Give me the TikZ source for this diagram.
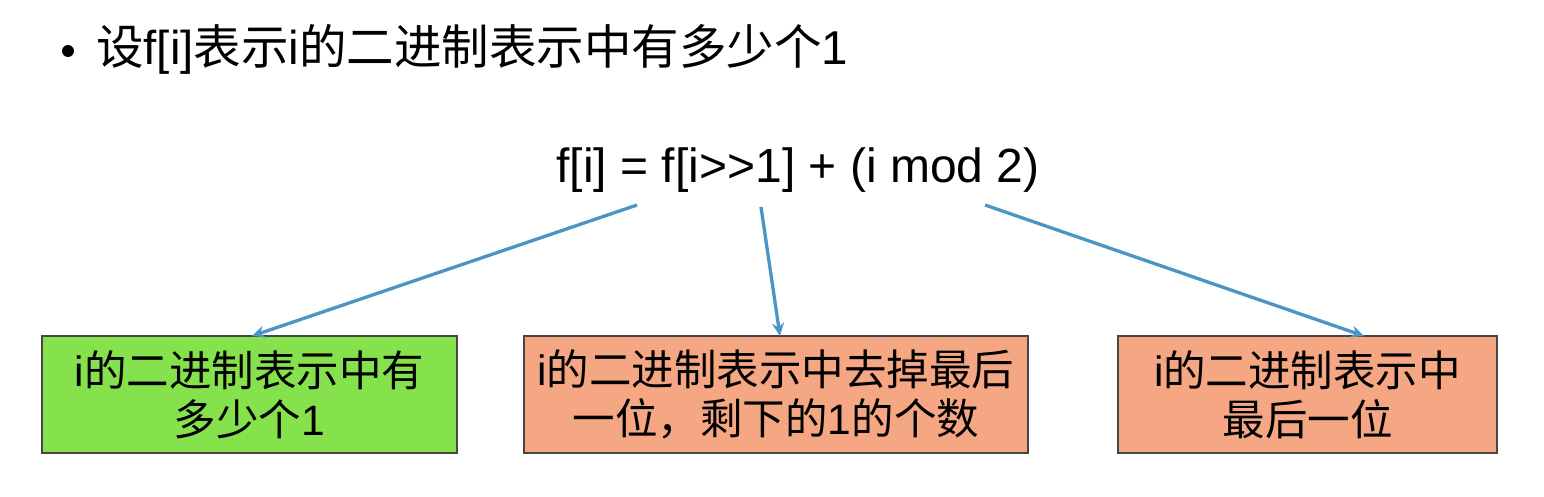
\documentclass[tikz,border=0pt]{standalone}
\usepackage{fontspec}
\setmainfont{Liberation Sans}[Ligatures=NoCommon]
\newfontfamily\cjk{Noto Sans CJK SC}
\usetikzlibrary{arrows.meta}
\definecolor{boxgreen}{RGB}{134,226,76}
\definecolor{boxorange}{RGB}{245,166,130}
\definecolor{arrowblue}{RGB}{74,148,198}
\definecolor{edgegray}{RGB}{70,70,70}
\begin{document}
\begin{tikzpicture}[x=1pt,y=-1pt,
  box/.style={draw=edgegray,line width=1.2pt,align=center,inner sep=0pt,
    font=\fontsize{42.5}{49}\selectfont},
  conn/.style={draw=arrowblue,line width=3.3pt,-{Stealth[length=13pt,width=12pt]}}]
\useasboundingbox (0,0) rectangle (1544,497);
\fill[white] (0,0) rectangle (1544,497);
% bullet line
\node[circle,fill=black,inner sep=0pt,minimum size=12pt] (dot) at (68,51) {};
\node[anchor=west,inner sep=0pt,font=\fontsize{47.5}{52}\selectfont] (title) at (96,49)
  {{\cjk 设}f[i]{\cjk 表示}i{\cjk 的二进制表示中有多少个}1};
% formula
\node[inner sep=0pt,font=\fontsize{48}{52}\selectfont] (formula) at (798,170)
  {f[i] = f[i{>}{>}1] + (i mod 2)};
% boxes
\node[box,fill=boxgreen,minimum width=415pt,minimum height=117pt] (b1) at (249.5,394.5)
  {i{\cjk 的二进制表示中有}\\{\cjk 多少个}1};
\node[box,fill=boxorange,minimum width=504pt,minimum height=117pt] (b2) at (776,394.5)
  {i{\cjk 的二进制表示中去掉最后}\\{\cjk 一位，剩下的}1{\cjk 的个数}};
\node[box,fill=boxorange,minimum width=379pt,minimum height=117pt] (b3) at (1307.5,394.5)
  {i{\cjk 的二进制表示中}\\{\cjk 最后一位}};
% connector ends
\coordinate (s1) at (637,205);
\coordinate (s2) at (761,207);
\coordinate (s3) at (985,205);
\coordinate (e1) at (252,336);
\coordinate (e2) at (780,336);
\coordinate (e3) at (1364,336);
\draw[conn] (s1) -- (e1);
\draw[conn] (s2) -- (e2);
\draw[conn] (s3) -- (e3);
\end{tikzpicture}
\end{document}
